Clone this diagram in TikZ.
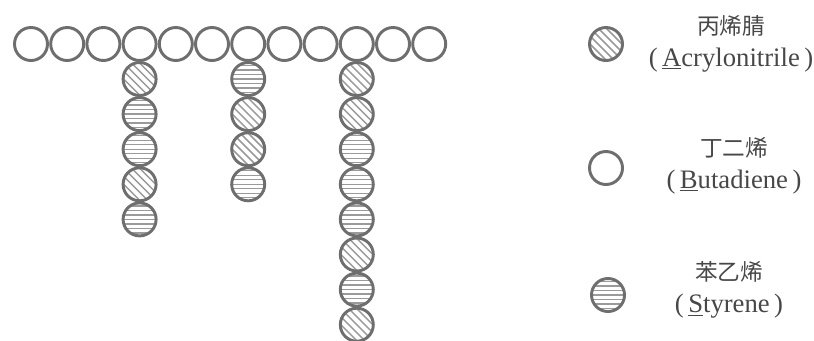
\documentclass[tikz,border=0pt]{standalone}
\usepackage{fontspec}
\setmainfont{Liberation Serif}
\newfontfamily\cjk{Noto Sans CJK SC}

\definecolor{ringgray}{HTML}{6E6E6E}
\definecolor{hatchgray}{HTML}{9A9A9A}
\definecolor{textgray}{HTML}{474747}

\tikzset{
  mono/.style={circle, draw=ringgray, line width=2.2pt, fill=white, minimum size=24.75pt, inner sep=0pt},
  butadiene/.style={mono},
  acrylo/.style={mono, path picture={
      \foreach \k in {-32,-24,...,32}
        \draw[hatchgray, line width=1.1pt] (path picture bounding box.center) ++({\k-30},-30) -- ++(60,60);}},
  styrene/.style={mono, path picture={
      \foreach \k in {-18,-13.5,...,18}
        \draw[hatchgray, line width=1pt] (path picture bounding box.center) ++(-30,\k) -- ++(60,0);}},
  keytext/.style={align=center, text=textgray, font=\fontsize{20}{24}\selectfont}
}

\begin{document}
\begin{tikzpicture}[x=0.75pt, y=-0.75pt]
  \useasboundingbox (0,0) rectangle (814,340);

  % ==================== 主链 (丁二烯) ====================
  \foreach \i in {0,...,11}
    \node[butadiene] (bd-\i) at ({31+36.2*\i},44) {};

  % ==================== 支链 (接在第 4, 7, 10 个单元下) ====================
  \foreach \kind [count=\k] in {acrylo,styrene,styrene,acrylo,styrene}
    \node[\kind] (ga-\k) at (139.6,{43.9+35.1*\k}) {};
  \foreach \kind [count=\k] in {styrene,acrylo,acrylo,styrene}
    \node[\kind] (gb-\k) at (248.2,{43.9+35.1*\k}) {};
  \foreach \kind [count=\k] in {acrylo,acrylo,styrene,styrene,styrene,acrylo,styrene,acrylo}
    \node[\kind] (gc-\k) at (356.8,{43.9+35.1*\k}) {};

  % ==================== 图例 ====================
  \node[acrylo] (key-a) at (606,44) {};
  \node[keytext] (lab-a) at (731,44) {{\cjk\fontsize{17}{24}\selectfont 丙烯腈}\\(\,\underline{A}crylonitrile\,)};

  \node[butadiene] (key-b) at (606,168) {};
  \node[keytext] (lab-b) at (734,166) {{\cjk\fontsize{17}{24}\selectfont 丁二烯}\\(\,\underline{B}utadiene\,)};

  \node[styrene] (key-s) at (608,295) {};
  \node[keytext] (lab-s) at (729,290) {{\cjk\fontsize{17}{24}\selectfont 苯乙烯}\\(\,\underline{S}tyrene\,)};
\end{tikzpicture}
\end{document}
